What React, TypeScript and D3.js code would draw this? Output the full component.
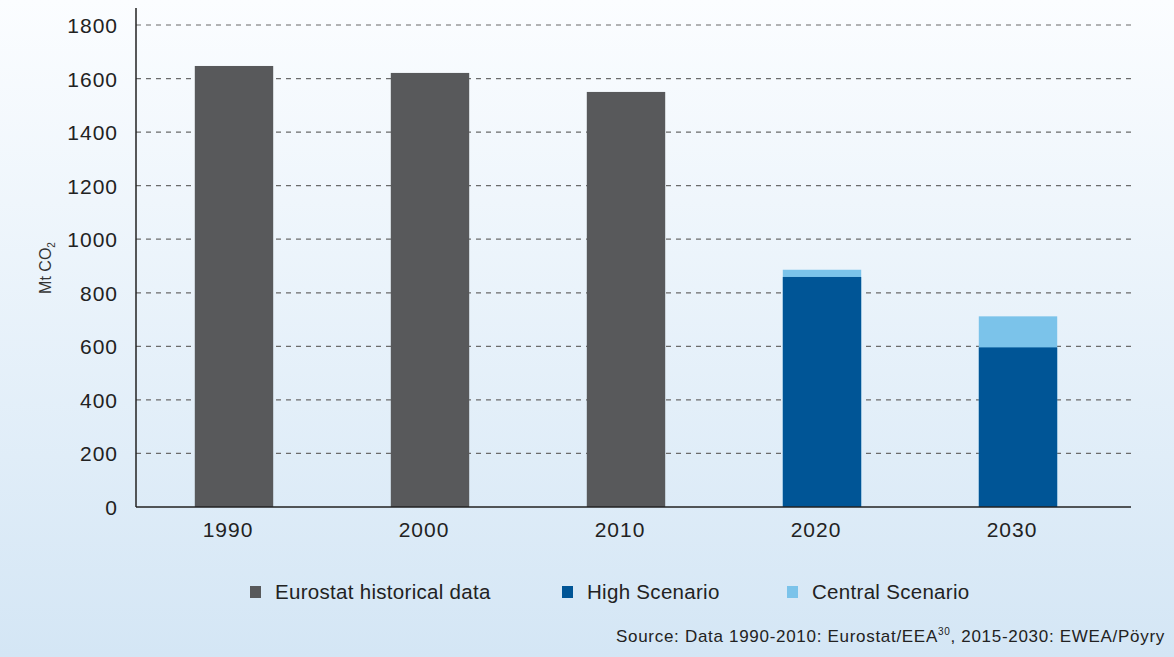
import React from "react";
import * as d3 from "d3";

const years = ["1990", "2000", "2010", "2020", "2030"];
const historical = [1647, 1621, 1550, 0, 0];
const highScenario = [0, 0, 0, 859, 596];
const centralScenario = [0, 0, 0, 886, 712];
const yTicks = [0, 200, 400, 600, 800, 1000, 1200, 1400, 1600, 1800];
const legendItems = ["Eurostat historical data", "High Scenario", "Central Scenario"];

const W = 1174;
const H = 657;
const FONT = "'Liberation Sans', Arial, sans-serif";
const GRAY = "#58595b";
const DARK = "#005596";
const LIGHT = "#7bc3ea";

export default function App() {
  const x = d3.scaleBand().domain(years).range([136, 1116]).paddingInner(0.6).paddingOuter(0.3);
  const y = d3.scaleLinear().domain([0, 1800]).range([507, 25]);
  const bw = x.bandwidth();
  const legendX = [250, 562, 787];
  const legendColors = [GRAY, DARK, LIGHT];

  return (
    <svg width={W} height={H} style={{ position: "absolute", left: 0, top: 0 }} fontFamily={FONT}>
      <defs>
        <linearGradient id="bg" x1="0" y1="0" x2="0" y2="1">
          <stop offset="0" stopColor="#fbfdff" />
          <stop offset="1" stopColor="#d4e6f5" />
        </linearGradient>
      </defs>
      <rect x={0} y={0} width={W} height={H} fill="url(#bg)" />
      {yTicks.filter((t) => t > 0).map((t) => (
        <line key={t} x1={136} x2={1131} y1={y(t)} y2={y(t)} stroke="#6b6b6b" strokeWidth={1.2} strokeDasharray="5,5" />
      ))}
      {years.map((yr, i) => (
        <g key={yr}>
          {historical[i] > 0 && (
            <rect x={x(yr)} y={y(historical[i])} width={bw} height={y(0) - y(historical[i])} fill={GRAY} />
          )}
          {centralScenario[i] > 0 && (
            <rect x={x(yr)} y={y(centralScenario[i])} width={bw} height={y(0) - y(centralScenario[i])} fill={LIGHT} />
          )}
          {highScenario[i] > 0 && (
            <rect x={x(yr)} y={y(highScenario[i])} width={bw} height={y(0) - y(highScenario[i])} fill={DARK} />
          )}
          <text x={x(yr)! + bw / 2 - 6} y={537} textAnchor="middle" fontSize={21} letterSpacing={1} fill="#222">{yr}</text>
        </g>
      ))}
      <line x1={136} x2={136} y1={8} y2={507} stroke="#222" strokeWidth={1.5} />
      <line x1={136} x2={1131} y1={507} y2={507} stroke="#222" strokeWidth={1.5} />
      {yTicks.map((t) => (
        <text key={t} x={118} y={y(t) + 8} textAnchor="end" fontSize={21} letterSpacing={1} fill="#222">{t}</text>
      ))}
      <text transform="translate(51,268) rotate(-90)" textAnchor="middle" fontSize={16} fill="#333">
        Mt CO<tspan fontSize={10} dy={4}>2</tspan>
      </text>
      {legendItems.map((l, i) => (
        <g key={l}>
          <rect x={legendX[i]} y={586} width={11} height={12} fill={legendColors[i]} />
          <text x={legendX[i] + 25} y={599} fontSize={20.5} letterSpacing={0.3} fill="#222">{l}</text>
        </g>
      ))}
      <text x={1165} y={642} textAnchor="end" fontSize={17} letterSpacing={0.7} fill="#222">
        Source: Data 1990-2010: Eurostat/EEA<tspan fontSize={10} dy={-7}>30</tspan><tspan dy={7}>, 2015-2030: EWEA/Pöyry</tspan>
      </text>
    </svg>
  );
}
